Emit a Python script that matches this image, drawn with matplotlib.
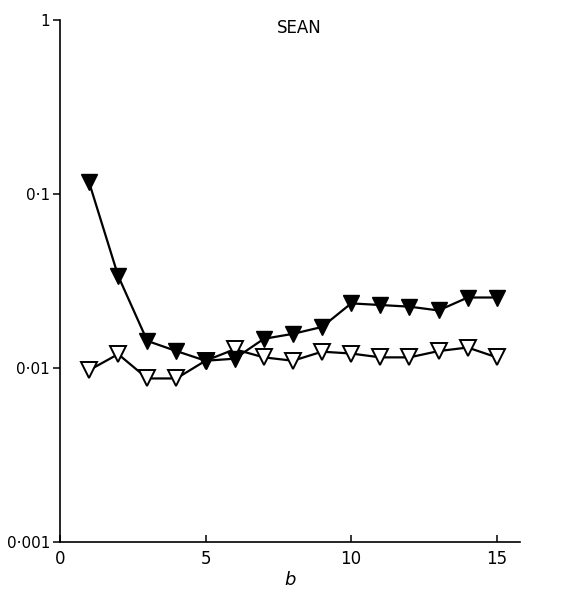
import matplotlib
matplotlib.use("Agg")
import matplotlib.pyplot as plt
from matplotlib.ticker import FixedLocator, FixedFormatter

# data
b = [1, 2, 3, 4, 5, 6, 7, 8, 9, 10, 11, 12, 13, 14, 15]
filled = [0.117, 0.0338, 0.0143, 0.0125, 0.0110, 0.0113, 0.0147, 0.0157, 0.0172,
          0.0235, 0.0230, 0.0225, 0.0214, 0.0254, 0.0254]
open_ = [0.0097, 0.0120, 0.0087, 0.0087, 0.0110, 0.0128, 0.0115, 0.0110, 0.0124,
         0.0121, 0.0115, 0.0115, 0.0125, 0.0131, 0.0115]
yticks = [0.001, 0.01, 0.1, 1]
yticklabels = ["0\u00b7001", "0\u00b701", "0\u00b71", "1"]
xticks = [0, 5, 10, 15]

fig = plt.figure(figsize=(5.76, 5.89), dpi=100)
ax = fig.add_axes([0.104, 0.080, 0.799, 0.886])

ax.plot(b, open_, color="black", lw=1.6, marker="v", ms=11,
        mfc="white", mec="black", mew=1.4, zorder=2)
ax.plot(b, filled, color="black", lw=1.6, marker="v", ms=11,
        mfc="black", mec="black", zorder=3)

ax.set_yscale("log")
ax.set_ylim(0.001, 1)
ax.set_xlim(0, 15.8)
ax.yaxis.set_major_locator(FixedLocator(yticks))
ax.yaxis.set_major_formatter(FixedFormatter(yticklabels))
ax.yaxis.set_minor_locator(FixedLocator([]))
ax.set_xticks(xticks)

for s in ["top", "right"]:
    ax.spines[s].set_visible(False)
for s in ["left", "bottom"]:
    ax.spines[s].set_linewidth(1.2)

ax.tick_params(axis="y", direction="out", length=5, width=1.1, labelsize=11, pad=2)
ax.tick_params(axis="x", direction="in", length=5, width=1.1, labelsize=12, pad=6)

ax.set_xlabel("b", fontsize=13, style="italic", labelpad=2)
ax.text(8.2, 0.9, "SEAN", fontsize=12, ha="center", va="center")

fig.savefig("out.png", dpi=100)
